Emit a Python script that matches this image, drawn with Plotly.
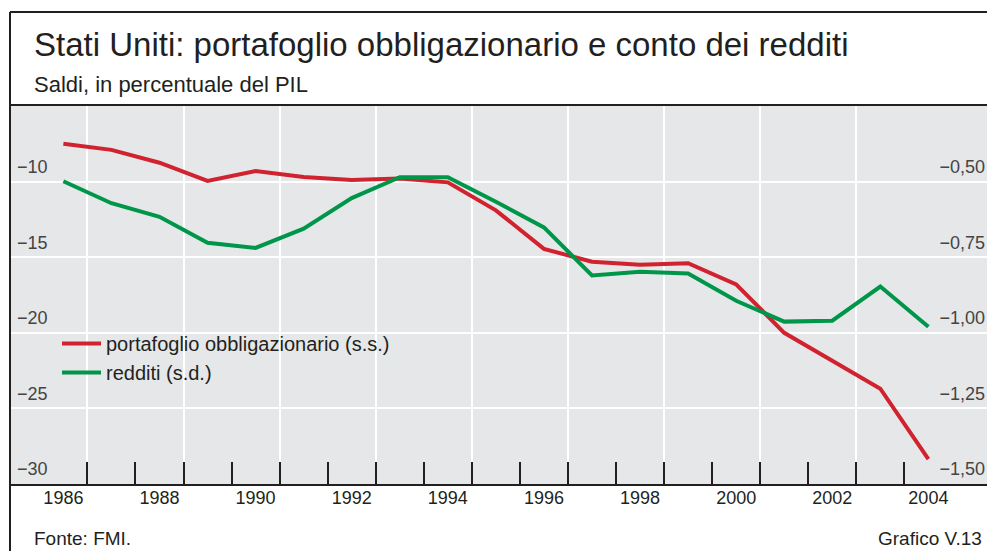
import plotly.graph_objects as go

# ---- data ----
years = list(range(1986, 2005))
portafoglio = [-7.5, -7.9, -8.75, -9.95, -9.3, -9.7, -9.9, -9.8, -10.05, -11.9,
               -14.45, -15.3, -15.5, -15.4, -16.8, -20.0, -21.85, -23.7, -28.35]
redditi = [-0.547, -0.62, -0.665, -0.751, -0.768, -0.704, -0.603, -0.534, -0.534, -0.615,
           -0.70, -0.859, -0.847, -0.853, -0.943, -1.012, -1.009, -0.896, -1.029]

label_years = list(range(1986, 2005, 2))
left_ticks = [-10, -15, -20, -25, -30]
left_text = ["\u221210", "\u221215", "\u221220", "\u221225", "\u221230"]
right_ticks = [-0.5, -0.75, -1.0, -1.25, -1.5]
right_text = ["\u22120,50", "\u22120,75", "\u22121,00", "\u22121,25", "\u22121,50"]

title = "Stati Uniti: portafoglio obbligazionario e conto dei redditi"
subtitle = "Saldi, in percentuale del PIL"
source = "Fonte: FMI."
chart_id = "Grafico V.13"

RED = "#d0232f"
GREEN = "#00964a"
TXT = "#231f20"
BG = "#e6e7e9"
FONT = "Liberation Sans, Arial, sans-serif"

W, H = 987, 551
ML, MR, MT, MB = 11, 0, 106, 67
XR = [1984.91, 2005.22]

def px_x(p):
    return (p - ML) / (W - ML - MR)

def px_y(p):
    return (H - MB - p) / (H - MT - MB)

fig = go.Figure()
fig.add_trace(go.Scatter(x=years, y=portafoglio, mode="lines",
                         name="portafoglio obbligazionario (s.s.)",
                         line=dict(color=RED, width=4), xaxis="x", yaxis="y"))
fig.add_trace(go.Scatter(x=years, y=redditi, mode="lines",
                         name="redditi (s.d.)",
                         line=dict(color=GREEN, width=4), xaxis="x2", yaxis="y2"))

fig.update_layout(
    width=W, height=H,
    margin=dict(l=ML, r=MR, t=MT, b=MB),
    paper_bgcolor="white", plot_bgcolor=BG,
    font=dict(family=FONT, color=TXT, size=18),
    showlegend=True,
    legend=dict(x=px_x(57), y=px_y(324), xanchor="left", yanchor="top",
                bgcolor="rgba(0,0,0,0)", font=dict(size=20, color=TXT),
                itemwidth=39, tracegroupgap=0),
    xaxis=dict(range=XR, tickmode="array", tickvals=label_years,
               ticktext=[str(y) for y in label_years], ticks="",
               showgrid=False, zeroline=False, showline=True,
               linecolor=TXT, linewidth=2, mirror=True,
               tickfont=dict(size=18), ticklabelstandoff=-4,
               minor=dict(tickmode="array",
                          tickvals=[y + 0.5 for y in range(1986, 2004)],
                          ticks="inside", ticklen=22, tickwidth=2,
                          tickcolor=TXT, showgrid=False)),
    xaxis2=dict(range=XR, overlaying="x", anchor="y", tickmode="array",
                tickvals=[y + 0.5 for y in range(1986, 2005, 2)],
                showticklabels=False, ticks="", showgrid=True,
                gridcolor="white", gridwidth=1.5, zeroline=False),
    yaxis=dict(range=[-30, -5], tickmode="array", tickvals=left_ticks,
               ticktext=left_text, ticks="", ticklabelposition="inside",
               ticklabelshift=-15, ticklabelstandoff=3,
               showgrid=True, gridcolor="white",
               gridwidth=1.5, zeroline=False, showline=False),
    yaxis2=dict(range=[-1.5497, -0.298], overlaying="y", side="right",
                anchor="x", tickmode="array", tickvals=right_ticks,
                ticktext=right_text, ticks="", ticklabelposition="inside",
                ticklabelstandoff=-1,
                showgrid=False, zeroline=False, showline=False),
)

# frame of the chart panel
fig.add_shape(type="line", xref="paper", yref="paper",
              x0=px_x(10), x1=px_x(10), y0=px_y(12), y1=px_y(H + 2),
              line=dict(color=TXT, width=2))
fig.add_shape(type="line", xref="paper", yref="paper",
              x0=px_x(10), x1=px_x(W + 2), y0=px_y(12), y1=px_y(12),
              line=dict(color=TXT, width=2))

# texts
fig.add_annotation(text=title, xref="paper", yref="paper", x=px_x(32), y=px_y(44),
                   xanchor="left", yanchor="middle", showarrow=False,
                   font=dict(size=33, color=TXT))
fig.add_annotation(text=subtitle, xref="paper", yref="paper", x=px_x(32), y=px_y(84),
                   xanchor="left", yanchor="middle", showarrow=False,
                   font=dict(size=22, color=TXT))
fig.add_annotation(text=source, xref="paper", yref="paper", x=px_x(32), y=px_y(538),
                   xanchor="left", yanchor="middle", showarrow=False,
                   font=dict(size=19, color=TXT))
fig.add_annotation(text=chart_id, xref="paper", yref="paper", x=px_x(984), y=px_y(538),
                   xanchor="right", yanchor="middle", showarrow=False,
                   font=dict(size=19, color=TXT))

fig.write_html("out.html",
               config={"displayModeBar": False},
               post_script="document.body.style.margin='0px';"
                           "document.body.style.overflow='hidden';")
